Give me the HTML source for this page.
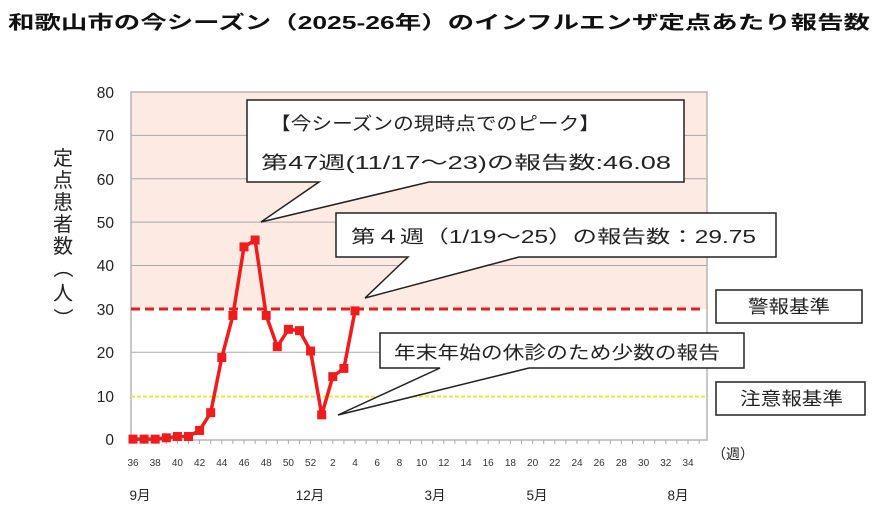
<!DOCTYPE html>
<html><head><meta charset="utf-8"><style>
html,body{margin:0;padding:0;background:#fff;}
svg{display:block;font-family:"Liberation Sans","Noto Sans CJK JP",sans-serif;}
</style></head><body>
<svg width="889" height="525" viewBox="0 0 889 525" xmlns="http://www.w3.org/2000/svg">
<text x="8" y="29" font-size="18.5" font-weight="bold" fill="#111" textLength="862" lengthAdjust="spacingAndGlyphs">和歌山市の今シーズン（2025-26年）のインフルエンザ定点あたり報告数</text>
<rect x="131" y="92" width="576" height="217" fill="#fdebe3"/>
<g stroke="#a8a8a8" stroke-width="1">
<line x1="131" y1="92" x2="707" y2="92"/>
<line x1="131" y1="135.4" x2="707" y2="135.4"/>
<line x1="131" y1="178.8" x2="707" y2="178.8"/>
<line x1="131" y1="222.1" x2="707" y2="222.1"/>
<line x1="131" y1="265.5" x2="707" y2="265.5"/>
<line x1="131" y1="352.2" x2="707" y2="352.2"/>
</g>
<rect x="131" y="92" width="576" height="348" fill="none" stroke="#b5b5b5" stroke-width="1.5"/>
<line x1="131" y1="396.6" x2="707" y2="396.6" stroke="#e8e84a" stroke-width="2" stroke-dasharray="4,2"/>
<line x1="131" y1="309" x2="700" y2="309" stroke="#e02020" stroke-width="3" stroke-dasharray="9,5"/>
<g font-size="15.5" fill="#222" text-anchor="end">
<text x="114" y="98">80</text><text x="114" y="141">70</text><text x="114" y="185">60</text>
<text x="114" y="228">50</text><text x="114" y="271">40</text><text x="114" y="315">30</text>
<text x="114" y="358">20</text><text x="114" y="402">10</text><text x="114" y="445">0</text>
</g>
<g font-size="20" fill="#222" text-anchor="middle">
<text x="63" y="165">定</text><text x="63" y="187">点</text><text x="63" y="209">患</text>
<text x="63" y="231">者</text><text x="63" y="253">数</text>
<text x="63" y="275" transform="rotate(90 63 268)">（</text><text x="63" y="300">人</text>
<text x="63" y="325" transform="rotate(90 63 318)">）</text>
</g>
<g id="xt" font-size="10" fill="#333" text-anchor="middle"></g>
<g font-size="13.5" fill="#222" text-anchor="middle">
<text x="140" y="500">9月</text><text x="310" y="500">12月</text><text x="435" y="500">3月</text>
<text x="537" y="500">5月</text><text x="678" y="500">8月</text>
</g>
<text x="712" y="459" font-size="14" fill="#222">（週）</text>
<polyline id="ser" fill="none" stroke="#ee1c1c" stroke-width="3.5" points=""/>
<g id="mk" fill="#ee1c1c"></g>
<g fill="#fff" stroke="#222" stroke-width="1.5">
<polygon points="247,100 684,100 684,182 429,182 261,222 319,182 247,182"/>
<polygon points="336,213 776,213 776,257 519,257 365,298 408,257 336,257"/>
<polygon points="380,333 744,333 744,368 529,368 338,415 440,368 380,368"/>
<rect x="716" y="290" width="146" height="33"/>
<rect x="716" y="382" width="149" height="33"/>
</g>
<g font-size="18" fill="#222">
<text x="270" y="130" textLength="330" lengthAdjust="spacingAndGlyphs">【今シーズンの現時点でのピーク】</text>
<text x="261" y="169" textLength="410" lengthAdjust="spacingAndGlyphs">第47週(11/17～23)の報告数:46.08</text>
<text x="351" y="243" textLength="405" lengthAdjust="spacingAndGlyphs">第４週（1/19～25）の報告数：29.75</text>
<text x="394" y="359" textLength="326" lengthAdjust="spacingAndGlyphs">年末年始の休診のため少数の報告</text>
<text x="748" y="313" textLength="82" lengthAdjust="spacingAndGlyphs">警報基準</text>
<text x="740" y="405" textLength="103" lengthAdjust="spacingAndGlyphs">注意報基準</text>
</g>
</svg>
<script>
(function(){
var ns="http://www.w3.org/2000/svg";
var vals=[0.2,0.2,0.2,0.5,0.8,0.8,2.2,6.3,19,28.7,44.5,46.08,28.7,21.5,25.5,25.2,20.5,5.8,14.6,16.5,29.75];
var pts=vals.map(function(v,i){return [133+i*11.1,440-v*4.34];});
document.getElementById("ser").setAttribute("points",pts.map(function(p){return p[0]+","+p[1];}).join(" "));
var mk=document.getElementById("mk");
pts.forEach(function(a){var r=document.createElementNS(ns,"rect");
r.setAttribute("x",a[0]-4.5);r.setAttribute("y",a[1]-4.5);r.setAttribute("width",9);r.setAttribute("height",9);mk.appendChild(r);});
var xt=document.getElementById("xt");
var labs=[36,38,40,42,44,46,48,50,52,2,4,6,8,10,12,14,16,18,20,22,24,26,28,30,32,34];
labs.forEach(function(l,i){var t=document.createElementNS(ns,"text");t.setAttribute("x",133+i*22.2);t.setAttribute("y",466);t.textContent=l;xt.appendChild(t);});
for(var i=0;i<53;i++){var ln=document.createElementNS(ns,"line");var x=133+i*11.1;if(x>707)break;
ln.setAttribute("x1",x);ln.setAttribute("x2",x);ln.setAttribute("y1",440);ln.setAttribute("y2",444);ln.setAttribute("stroke","#aaa");xt.appendChild(ln);}
})();
</script>
</body></html>
